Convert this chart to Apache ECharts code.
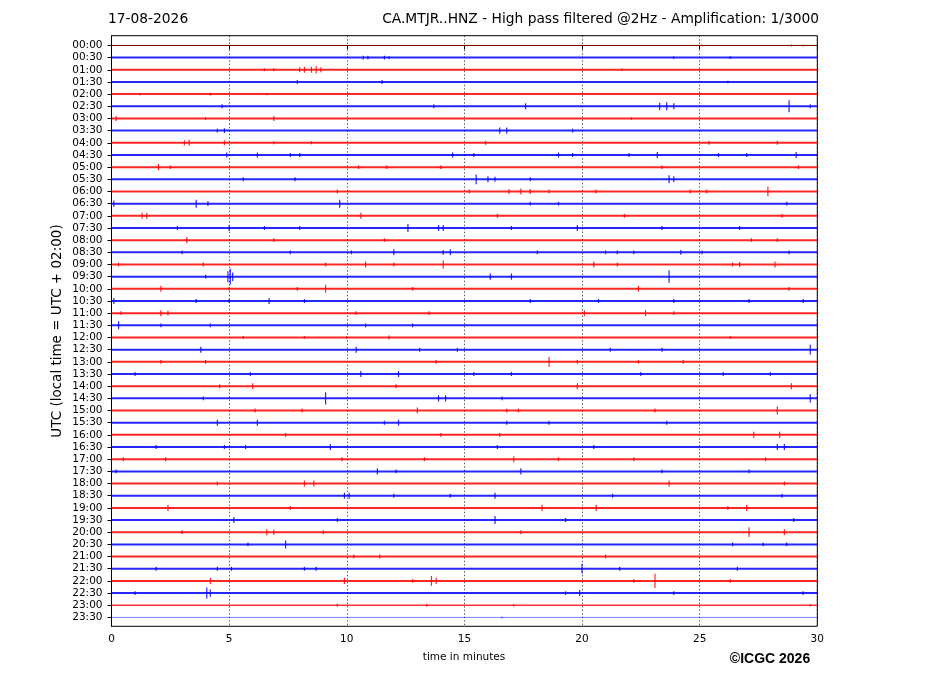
<!DOCTYPE html>
<html>
<head>
<meta charset="utf-8">
<script src="https://cdn.jsdelivr.net/npm/echarts@6/dist/echarts.min.js"></script>
<style>
  html, body { margin: 0; padding: 0; background: #fff; }
  #chart { width: 927px; height: 696px; }
</style>
</head>
<body>
<div id="chart"></div>
<script>
// tick labels, one per half-hour trace
const timeLabels = [
  '00:00','00:30','01:00','01:30','02:00','02:30','03:00','03:30',
  '04:00','04:30','05:00','05:30','06:00','06:30','07:00','07:30',
  '08:00','08:30','09:00','09:30','10:00','10:30','11:00','11:30',
  '12:00','12:30','13:00','13:30','14:00','14:30','15:00','15:30',
  '16:00','16:30','17:00','17:30','18:00','18:30','19:00','19:30',
  '20:00','20:30','21:00','21:30','22:00','22:30','23:00','23:30'
];

const minuteTicks = [0, 5, 10, 15, 20, 25, 30];

// background noise per trace: 0 quiet, 1 medium, 2 normal
const noiseLevel = [
  0,2,2,2,2,2,2,2, 2,2,2,2,2,2,2,2,
  2,2,2,2,2,2,2,2, 2,2,2,2,2,2,2,2,
  2,2,2,2,2,2,2,2, 2,2,2,2,2,2,1,0
];

// visible bursts per trace: [minute, half-amplitude in trace spacings]
const bursts = [
  [[25.1,0.08],[28.9,0.08],[29.4,0.08]],
  [[10.7,0.16],[10.9,0.16],[11.6,0.16],[11.8,0.12],[23.9,0.12],[26.3,0.12]],
  [[6.5,0.12],[6.9,0.12],[8.0,0.2],[8.2,0.25],[8.5,0.25],[8.7,0.3],[8.9,0.2],[21.7,0.1]],
  [[7.9,0.16],[11.5,0.16],[26.2,0.1]],
  [[1.2,0.1],[4.2,0.12],[6.6,0.1]],
  [[4.7,0.16],[13.7,0.16],[17.6,0.25],[23.3,0.3],[23.6,0.33],[23.9,0.25],[28.8,0.5],[29.7,0.16]],
  [[0.2,0.2],[4.0,0.12],[6.9,0.2],[22.1,0.1]],
  [[4.5,0.16],[4.8,0.2],[16.5,0.25],[16.8,0.25],[19.6,0.16]],
  [[3.1,0.2],[3.3,0.25],[4.8,0.2],[6.9,0.12],[8.5,0.12],[15.9,0.16],[25.4,0.16],[28.3,0.16]],
  [[4.9,0.2],[6.2,0.2],[7.6,0.16],[8.0,0.16],[14.5,0.2],[15.4,0.16],[19.0,0.2],[19.6,0.16],[22.0,0.16],[23.2,0.25],[25.8,0.16],[27.0,0.16],[29.1,0.25]],
  [[2.0,0.25],[2.5,0.16],[10.5,0.16],[11.7,0.16],[14.0,0.16],[23.4,0.16],[29.2,0.16]],
  [[5.6,0.16],[7.8,0.16],[15.5,0.4],[16.0,0.25],[16.3,0.2],[17.8,0.16],[23.7,0.33],[23.9,0.25]],
  [[9.6,0.16],[15.2,0.16],[16.9,0.2],[17.4,0.25],[17.8,0.2],[18.6,0.16],[20.6,0.16],[24.6,0.16],[25.3,0.16],[27.9,0.4]],
  [[0.1,0.25],[3.6,0.33],[4.1,0.2],[9.7,0.33],[17.8,0.16],[19.0,0.16],[28.7,0.16]],
  [[1.3,0.25],[1.5,0.25],[10.6,0.25],[16.4,0.16],[21.8,0.16],[28.5,0.16]],
  [[2.8,0.16],[5.0,0.25],[6.5,0.16],[8.0,0.16],[12.6,0.33],[13.9,0.25],[14.1,0.25],[17.0,0.16],[19.8,0.25],[23.4,0.16],[26.7,0.16]],
  [[3.2,0.25],[6.9,0.16],[11.6,0.16],[27.2,0.16],[28.3,0.16]],
  [[3.0,0.16],[7.6,0.16],[10.2,0.16],[12.0,0.25],[14.1,0.2],[14.4,0.25],[18.1,0.16],[21.0,0.16],[21.5,0.16],[22.2,0.16],[24.2,0.2],[25.1,0.16],[28.8,0.16]],
  [[0.3,0.16],[3.9,0.16],[9.1,0.16],[10.8,0.25],[12.0,0.16],[14.1,0.33],[20.5,0.25],[21.5,0.16],[26.4,0.16],[26.7,0.2],[28.2,0.25]],
  [[4.0,0.16],[4.95,0.45],[5.05,0.65],[5.15,0.35],[16.1,0.25],[17.0,0.25],[23.7,0.5]],
  [[2.1,0.25],[5.0,0.16],[7.9,0.16],[9.1,0.33],[12.8,0.16],[22.4,0.25],[28.8,0.16]],
  [[0.1,0.25],[3.6,0.16],[5.0,0.16],[6.7,0.25],[8.2,0.16],[17.8,0.16],[20.7,0.16],[23.9,0.16],[27.1,0.16],[29.4,0.16]],
  [[0.4,0.16],[2.1,0.25],[2.4,0.2],[10.4,0.16],[13.5,0.16],[20.1,0.25],[22.7,0.25],[23.9,0.16]],
  [[0.3,0.33],[2.1,0.16],[4.2,0.16],[10.8,0.16],[12.8,0.16]],
  [[5.6,0.12],[8.2,0.12],[10.0,0.12],[11.8,0.16],[26.3,0.12]],
  [[3.8,0.25],[10.4,0.25],[13.1,0.16],[14.7,0.16],[21.2,0.16],[23.4,0.16],[29.7,0.4]],
  [[2.1,0.16],[4.0,0.16],[13.8,0.16],[18.6,0.4],[19.8,0.16],[22.4,0.16],[24.3,0.16]],
  [[1.0,0.16],[5.9,0.16],[10.6,0.25],[12.2,0.25],[15.4,0.16],[17.0,0.16],[22.5,0.16],[26.0,0.16],[28.0,0.16]],
  [[4.6,0.16],[6.0,0.25],[12.1,0.16],[19.8,0.25],[28.9,0.25]],
  [[3.9,0.16],[9.1,0.5],[13.9,0.25],[14.2,0.25],[16.6,0.16],[29.7,0.33]],
  [[6.1,0.16],[8.1,0.16],[13.0,0.25],[16.8,0.16],[17.3,0.16],[23.1,0.16],[28.3,0.33]],
  [[4.5,0.25],[6.2,0.25],[11.6,0.16],[12.2,0.25],[16.8,0.16],[18.6,0.16],[23.6,0.16]],
  [[7.4,0.16],[14.0,0.16],[16.5,0.16],[27.3,0.25],[28.4,0.25]],
  [[1.9,0.16],[4.8,0.16],[5.7,0.16],[9.3,0.25],[16.4,0.16],[20.5,0.16],[28.3,0.25],[28.6,0.25]],
  [[0.5,0.16],[2.3,0.16],[9.8,0.16],[13.3,0.16],[17.1,0.25],[19.0,0.16],[22.2,0.16],[27.8,0.16]],
  [[0.2,0.16],[11.3,0.25],[12.1,0.16],[17.4,0.25],[23.4,0.16],[27.1,0.16]],
  [[4.5,0.16],[8.2,0.25],[8.6,0.25],[23.7,0.25],[28.6,0.16]],
  [[9.9,0.25],[10.1,0.25],[12.0,0.16],[14.4,0.16],[16.3,0.25],[21.3,0.16],[28.5,0.16]],
  [[2.4,0.25],[7.6,0.16],[18.3,0.25],[20.6,0.25],[26.2,0.16],[27.0,0.25]],
  [[5.2,0.25],[9.6,0.16],[16.3,0.33],[19.3,0.16],[29.0,0.16]],
  [[3.0,0.16],[6.6,0.25],[6.9,0.2],[9.0,0.16],[17.4,0.16],[27.1,0.4],[28.6,0.25]],
  [[5.8,0.16],[7.4,0.33],[26.4,0.16],[27.7,0.16],[28.7,0.16]],
  [[10.3,0.16],[11.4,0.16],[21.0,0.16]],
  [[1.9,0.16],[4.5,0.16],[5.1,0.16],[8.2,0.16],[8.7,0.16],[20.0,0.4],[21.6,0.16],[26.6,0.16]],
  [[4.2,0.25],[9.9,0.25],[12.8,0.16],[13.6,0.4],[13.8,0.25],[22.2,0.16],[23.1,0.58],[26.3,0.16]],
  [[1.0,0.16],[4.05,0.45],[4.2,0.3],[19.3,0.16],[19.9,0.25],[23.9,0.16],[29.4,0.16]],
  [[9.6,0.12],[13.4,0.12],[17.1,0.1],[29.7,0.1]],
  [[16.6,0.06]]
];

const RED = '#ff0000';
const BLUE = '#0000ff';
const rowColor = i => (i % 2 === 0 ? RED : BLUE);
const FONT = 'DejaVu Sans';

const baselineSeries = timeLabels.map((lab, i) => ({
  type: 'line',
  name: lab,
  data: [[0, i], [30, i]],
  showSymbol: false,
  silent: true,
  animation: false,
  lineStyle: {
    color: rowColor(i),
    width: [1, 1.5, 2][noiseLevel[i]],
    opacity: [0.5, 0.8, 0.85][noiseLevel[i]]
  },
  z: 2
}));

const burstData = [];
bursts.forEach((row, i) => row.forEach(b => burstData.push([b[0], i, b[1]])));

const burstSeries = {
  type: 'custom',
  silent: true,
  animation: false,
  clip: true,
  z: 3,
  data: burstData,
  renderItem: (params, api) => {
    const m = api.value(0), r = api.value(1), a = api.value(2);
    const p1 = api.coord([m, r - a]);
    const p2 = api.coord([m, r + a]);
    return {
      type: 'line',
      shape: { x1: p1[0], y1: p1[1], x2: p2[0], y2: p2[1] },
      style: { stroke: rowColor(r), lineWidth: 1.2, opacity: 0.85 }
    };
  }
};

const chart = echarts.init(document.getElementById('chart'));
chart.setOption({
  backgroundColor: '#fff',
  animation: false,
  grid: {
    left: 111.5, top: 35.7, width: 705.8, height: 590.6,
    show: true, borderColor: '#000', borderWidth: 1, backgroundColor: 'transparent'
  },
  xAxis: {
    type: 'value',
    min: 0, max: 30, interval: 5,
    axisLine: { show: true, lineStyle: { color: '#000', width: 1 } },
    axisTick: { show: true, length: 4, lineStyle: { color: '#000' } },
    axisLabel: {
      color: '#000', fontSize: 10.5, fontFamily: FONT, margin: 7,
      formatter: v => (minuteTicks.indexOf(v) >= 0 ? String(v) : '')
    },
    splitLine: { show: true, lineStyle: { color: '#000', type: [1.5, 2], width: 0.8, opacity: 0.8 } }
  },
  yAxis: {
    type: 'value',
    inverse: true,
    min: -0.8, max: 47.73,
    axisLine: { show: true, lineStyle: { color: '#000', width: 1 } },
    axisTick: {
      show: true, length: 4, lineStyle: { color: '#000' },
      customValues: timeLabels.map((_, i) => i)
    },
    axisLabel: {
      color: '#000', fontSize: 10.5, fontFamily: FONT, margin: 9,
      customValues: timeLabels.map((_, i) => i),
      formatter: v => timeLabels[Math.round(v)] || ''
    },
    splitLine: { show: false }
  },
  graphic: [
    {
      type: 'text', left: 108, top: 12,
      style: { text: '17-08-2026', fontSize: 13.8, fontFamily: FONT, fill: '#000' }
    },
    {
      type: 'text', right: 108, top: 12,
      style: {
        text: 'CA.MTJR..HNZ - High pass filtered @2Hz - Amplification: 1/3000',
        fontSize: 13.8, fontFamily: FONT, fill: '#000'
      }
    },
    {
      type: 'text', x: 57, y: 331, rotation: Math.PI / 2,
      style: {
        text: 'UTC (local time = UTC + 02:00)', fontSize: 13.5, fontFamily: FONT,
        fill: '#000', align: 'center', verticalAlign: 'middle'
      }
    },
    {
      type: 'text', x: 464, y: 657,
      style: {
        text: 'time in minutes', fontSize: 10.5, fontFamily: FONT,
        fill: '#000', align: 'center', verticalAlign: 'middle'
      }
    },
    {
      type: 'text', x: 770, y: 659,
      style: {
        text: '©ICGC 2026', fontSize: 14, fontWeight: 'bold', fontFamily: 'Liberation Sans',
        fill: '#000', align: 'center', verticalAlign: 'middle'
      }
    }
  ],
  series: baselineSeries.concat([burstSeries])
});
</script>
</body>
</html>
